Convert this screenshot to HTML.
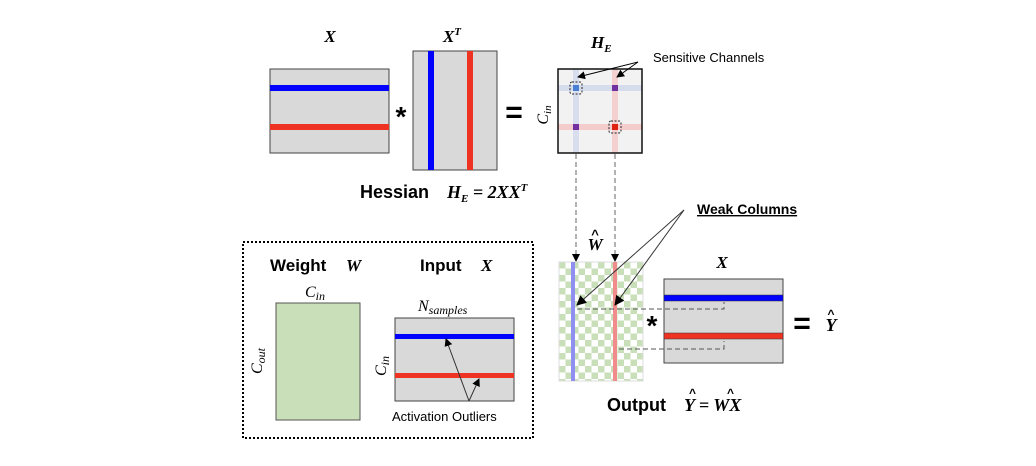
<!DOCTYPE html>
<html><head><meta charset="utf-8"><style>
body{margin:0;background:#fff;}
svg{display:block;font-family:"Liberation Sans",sans-serif;}
.m{font-family:"Liberation Serif",serif;font-style:italic;font-weight:bold;}
.n{font-family:"Liberation Serif",serif;font-style:italic;font-weight:normal;}
.b{font-weight:bold;}
</style></head><body>
<svg width="1036" height="466" viewBox="0 0 1036 466" xmlns="http://www.w3.org/2000/svg">
<defs>
<pattern id="ck" x="559" y="262" width="13" height="13" patternUnits="userSpaceOnUse">
<rect width="13" height="13" fill="#fff"/>
<rect width="6.5" height="6.5" fill="#c9dfb9"/><rect x="6.5" y="6.5" width="6.5" height="6.5" fill="#c9dfb9"/>
</pattern>
<marker id="ah" markerWidth="8" markerHeight="8" refX="7" refY="4" orient="auto" markerUnits="userSpaceOnUse"><path d="M0,0 L8,4 L0,8 z" fill="#000"/></marker>
<marker id="ah2" markerWidth="10" markerHeight="10" refX="9" refY="5" orient="auto" markerUnits="userSpaceOnUse"><path d="M0,0 L10,5 L0,10 z" fill="#000"/></marker>
</defs>
<!-- X top -->
<text x="330" y="42" class="m" font-size="17" text-anchor="middle">X</text>
<rect x="270" y="69" width="119" height="84" fill="#d9d9d9" stroke="#444"/>
<rect x="270" y="85" width="119" height="6" fill="#0000ff"/>
<rect x="270" y="124" width="119" height="6" fill="#ee3322"/>
<text x="401" y="126" font-size="28" text-anchor="middle" class="b">*</text>
<text x="452" y="42" class="m" font-size="17" text-anchor="middle">X<tspan font-size="11" dy="-7">T</tspan></text>
<rect x="413" y="51" width="84" height="119" fill="#d9d9d9" stroke="#444"/>
<rect x="428" y="51" width="6" height="119" fill="#0000ff"/>
<rect x="467" y="51" width="6" height="119" fill="#ee3322"/>
<text x="514" y="122" font-size="30" text-anchor="middle" class="b">=</text>
<text x="360" y="198" class="b" font-size="18">Hessian</text>
<text x="447" y="198" class="m" font-size="18">H<tspan font-size="11" dy="4">E</tspan><tspan dy="-4"> = 2XX</tspan><tspan font-size="11" dy="-7">T</tspan></text>
<!-- H_E -->
<text x="591" y="48" class="m" font-size="17">H<tspan font-size="11" dy="4">E</tspan></text>
<text transform="translate(548,115) rotate(-90)" class="n" font-size="16" text-anchor="middle">C<tspan font-size="11" dy="3">in</tspan></text>
<rect x="558" y="69" width="84" height="84" fill="#f2f2f2"/>
<rect x="558" y="85" width="84" height="6" fill="#d5dcec"/>
<rect x="558" y="124" width="84" height="6" fill="#f4cccc"/>
<rect x="573" y="69" width="6" height="84" fill="#d5dcec" opacity="0.9"/>
<rect x="612" y="69" width="6" height="84" fill="#f4cccc" opacity="0.9"/>
<rect x="573" y="85" width="6" height="6" fill="#4a7fd6"/>
<rect x="612" y="85" width="6" height="6" fill="#7030a0"/>
<rect x="573" y="124" width="6" height="6" fill="#7030a0"/>
<rect x="612" y="124" width="6" height="6" fill="#dd2211"/>
<rect x="558" y="69" width="84" height="84" fill="none" stroke="#111" stroke-width="1.5"/>
<rect x="570" y="82" width="12" height="12" rx="2" fill="none" stroke="#222" stroke-dasharray="2,1.5"/>
<rect x="609" y="121" width="12" height="12" rx="2" fill="none" stroke="#222" stroke-dasharray="2,1.5"/>
<text x="653" y="62" font-size="13">Sensitive Channels</text>
<line x1="638" y1="62" x2="578" y2="77" stroke="#000" marker-end="url(#ah)"/>
<line x1="638" y1="62" x2="617" y2="77" stroke="#000" marker-end="url(#ah)"/>
<line x1="576" y1="154" x2="576" y2="261" stroke="#666" stroke-dasharray="5,3" marker-end="url(#ah)"/>
<line x1="615" y1="154" x2="615" y2="261" stroke="#666" stroke-dasharray="5,3" marker-end="url(#ah)"/>
<!-- W hat -->
<text x="595" y="250" class="m" font-size="17" text-anchor="middle">W</text>
<text x="595" y="239" font-size="13" text-anchor="middle" font-weight="bold">^</text>
<rect x="559" y="262" width="84" height="119" fill="url(#ck)" stroke="#ddd"/>
<rect x="571" y="262" width="4" height="119" fill="#8f8ff2"/>
<rect x="613" y="262" width="4" height="119" fill="#f08c8c"/>
<text x="697" y="214" class="b" font-size="14" text-decoration="underline">Weak Columns</text>
<line x1="684" y1="210" x2="577" y2="305" stroke="#333" marker-end="url(#ah2)"/>
<line x1="684" y1="210" x2="615" y2="305" stroke="#333" marker-end="url(#ah2)"/>
<!-- X right -->
<text x="722" y="268" class="m" font-size="17" text-anchor="middle">X</text>
<rect x="664" y="279" width="119" height="84" fill="#d9d9d9" stroke="#444"/>
<rect x="664" y="295" width="119" height="6" fill="#0000ff" stroke="#333" stroke-width="0.5"/>
<rect x="664" y="333" width="119" height="6" fill="#ee3322" stroke="#333" stroke-width="0.5"/>
<path d="M577,309 H724 V302" fill="none" stroke="#555" stroke-dasharray="5,3"/>
<path d="M619,349 H724 V341" fill="none" stroke="#555" stroke-dasharray="5,3"/>
<text x="652" y="335" font-size="28" text-anchor="middle" class="b">*</text>
<text x="802" y="333" font-size="30" text-anchor="middle" class="b">=</text>
<text x="831" y="331" class="m" font-size="18" text-anchor="middle">Y</text>
<text x="831" y="318" font-size="12" text-anchor="middle" font-weight="bold">^</text>
<text x="607" y="411" class="b" font-size="18">Output</text>
<text x="684" y="411" class="m" font-size="18">Y = WX</text>
<text x="689" y="397" font-size="12" font-weight="bold">^</text>
<text x="727" y="397" font-size="12" font-weight="bold">^</text>
<!-- bottom-left box -->
<rect x="243" y="242" width="290" height="196" fill="none" stroke="#000" stroke-width="2" stroke-dasharray="2,2"/>
<text x="270" y="271" class="b" font-size="17">Weight</text>
<text x="346" y="271" class="m" font-size="17">W</text>
<text x="420" y="271" class="b" font-size="17">Input</text>
<text x="481" y="271" class="m" font-size="17">X</text>
<text x="305" y="297" class="n" font-size="16">C<tspan font-size="12" dy="3">in</tspan></text>
<rect x="276" y="303" width="84" height="117" fill="#c9dfb9" stroke="#555"/>
<text transform="translate(262,361) rotate(-90)" class="n" font-size="16" text-anchor="middle">C<tspan font-size="12" dy="3">out</tspan></text>
<text x="418" y="311" class="n" font-size="16">N<tspan font-size="12" dy="3">samples</tspan></text>
<rect x="395" y="318" width="119" height="83" fill="#d9d9d9" stroke="#444"/>
<rect x="395" y="334" width="119" height="5" fill="#0000ff"/>
<rect x="395" y="373" width="119" height="5" fill="#ee3322"/>
<text transform="translate(386,366) rotate(-90)" class="n" font-size="16" text-anchor="middle">C<tspan font-size="12" dy="3">in</tspan></text>
<line x1="469" y1="401" x2="446" y2="339" stroke="#333" marker-end="url(#ah)"/>
<line x1="469" y1="401" x2="479" y2="379" stroke="#333" marker-end="url(#ah)"/>
<text x="392" y="421" font-size="13">Activation Outliers</text>
</svg>
</body></html>
